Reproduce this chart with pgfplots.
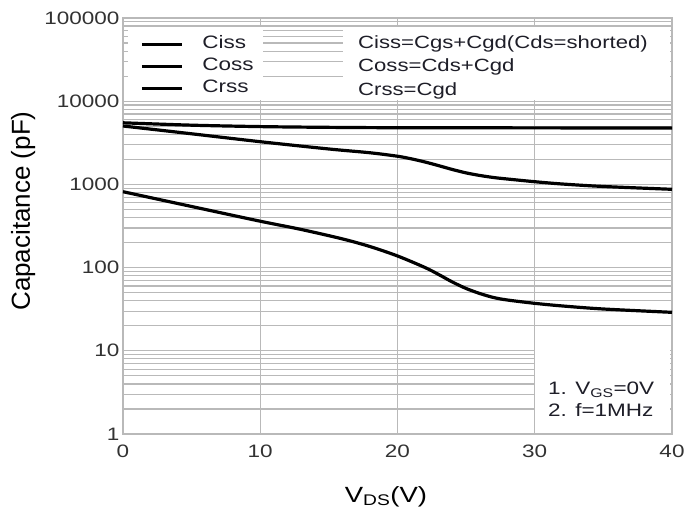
\documentclass[border=0pt]{standalone}
\usepackage{pgfplots}
\pgfplotsset{compat=1.18}
\usepackage{fontspec}
\setmainfont{Liberation Sans}[FakeStretch=1.25]
\newfontfamily\ylabfont{Liberation Sans}
\definecolor{gridc}{RGB}{185,185,185}
\definecolor{txt}{RGB}{30,30,40}
\definecolor{tickc}{RGB}{50,50,50}
\begin{document}
\begin{tikzpicture}
\useasboundingbox (-123pt,-75pt) rectangle (565pt,434pt);
\begin{axis}[
  scale only axis, width=549pt, height=416pt,
  at={(0pt,0pt)}, anchor=south west,
  xmin=0, xmax=40, ymin=1, ymax=100000, ymode=log,
  xtick={0,10,20,30,40},
  ytick={1,10,100,1000,10000,100000},
  yticklabels={1,10,100,1000,10000,100000},
  minor ytick={2,3,4,5,6,7,8,9,20,30,40,50,60,70,80,90,200,300,400,500,600,700,800,900,2000,3000,4000,5000,6000,7000,8000,9000,20000,30000,40000,50000,60000,70000,80000,90000},
  grid=both,
  major grid style={gridc, line width=1.2pt},
  minor grid style={gridc, line width=1.2pt},
  axis line style={gridc, line width=1.5pt},
  major tick length=0pt, minor tick length=0pt,
  /pgf/number format/assume math mode=true,
  ticklabel style={font=\fontsize{18}{20}\selectfont, text=tickc},
  xticklabel style={yshift=-7pt},
  ylabel={Capacitance (pF)},
  ylabel style={at={(axis description cs:-0.182,0.536)}, anchor=center, font=\ylabfont\fontsize{26}{28}\selectfont},
  xlabel={V\textsubscript{DS}(V)},
  xlabel style={at={(axis description cs:0.479,-0.1635)}, anchor=base, font=\fontsize{22}{24}\selectfont},
  legend cell align=left,
  legend image code/.code={\draw[#1] (0pt,0pt) -- (40pt,0pt); \path (56pt,0pt);},
  legend style={at={(rel axis cs:0.031,0.9627)}, anchor=north west, draw=none, fill=none,
    inner sep=0pt, row sep=0pt, font=\fontsize{18}{20}\selectfont, text=txt,
    nodes={inner sep=3pt, text height=12pt, text depth=4pt}},
]
\fill[white] (axis cs:0.36,10340) rectangle (axis cs:10.2,78000);
\fill[white] (axis cs:16.03,10340) rectangle (axis cs:39.85,78000);
\fill[white] (axis cs:30,1.03) rectangle (axis cs:39.85,11);
\draw[gridc, line width=1.2pt] (axis cs:30,1) -- (axis cs:30,11);

\addplot[black, line width=3.2pt, smooth] coordinates {
 (0,5500) (5,5150) (10,4950) (15,4850) (20,4800) (30,4780) (40,4760)};
\addlegendentry{Ciss}
\addplot[black, line width=3.2pt, smooth] coordinates {
 (0,5035) (5,4057) (10,3260) (15,2665) (18,2400) (20,2180) (21,2030) (22,1860) (23,1680) (24,1510) (25,1375) (26,1280) (27,1210) (28,1161) (30,1077) (32,1011) (35,944) (40,873)};
\addlegendentry{Coss}
\addplot[black, line width=3.2pt, smooth] coordinates {
 (0,817) (5,542.5) (10,361) (13,287) (16,221) (18,179) (20,138) (22,100.3) (23,82.6) (24,67.1) (25,56.1) (26,48.8) (27,43.7) (28,40.8) (30,37.2) (32,34.6) (35,31.8) (40,29.0)};
\addlegendentry{Crss}
\end{axis}
\begin{scope}[every node/.style={anchor=base west, inner sep=0pt, text=txt}]
\node[font=\fontsize{17.7}{20}\selectfont] at (235pt,385.5pt) {Ciss=Cgs+Cgd(Cds=shorted)};
\node[font=\fontsize{17.7}{20}\selectfont] at (235pt,362pt) {Coss=Cds+Cgd};
\node[font=\fontsize{17.7}{20}\selectfont] at (235pt,338.5pt) {Crss=Cgd};
\node[font=\fontsize{18}{20}\selectfont] at (425pt,39.5pt) {1. V\textsubscript{GS}=0V};
\node[font=\fontsize{18}{20}\selectfont] at (425pt,17.5pt) {2. f=1MHz};
\end{scope}
\end{tikzpicture}
\end{document}
